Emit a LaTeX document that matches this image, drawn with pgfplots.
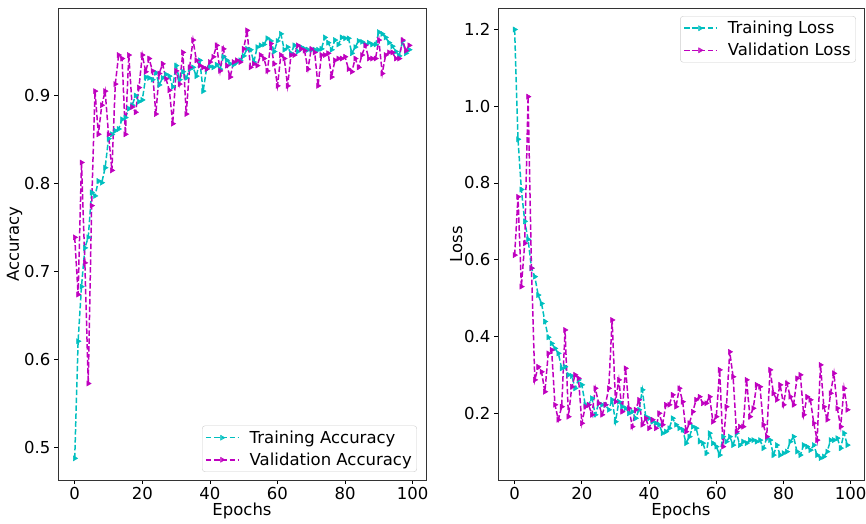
\documentclass[border=0pt]{standalone}
\usepackage{fontspec}
\setmainfont{DejaVu Sans}
\usepackage{pgfplots}
\usepackage{pgfplotstable}
\pgfplotsset{compat=1.18}
\definecolor{mc}{RGB}{191,0,191}
\definecolor{cc}{RGB}{0,191,191}
\pgfplotstableread{
epoch tacc vacc tloss vloss
0 0.488 0.739 1.200 0.612
1 0.621 0.674 0.914 0.764
2 0.683 0.824 0.783 0.530
3 0.727 0.710 0.700 0.643
4 0.739 0.573 0.653 1.025
5 0.790 0.775 0.578 0.578
6 0.786 0.905 0.556 0.287
7 0.803 0.856 0.508 0.321
8 0.801 0.889 0.486 0.308
9 0.818 0.905 0.439 0.256
10 0.851 0.856 0.398 0.356
11 0.856 0.815 0.382 0.365
12 0.860 0.913 0.369 0.222
13 0.862 0.946 0.356 0.183
14 0.873 0.942 0.317 0.217
15 0.875 0.856 0.321 0.417
16 0.885 0.946 0.300 0.191
17 0.889 0.887 0.297 0.269
18 0.900 0.881 0.265 0.300
19 0.893 0.909 0.287 0.291
20 0.895 0.946 0.274 0.174
21 0.921 0.927 0.222 0.217
22 0.920 0.942 0.222 0.222
23 0.918 0.928 0.239 0.196
24 0.926 0.879 0.196 0.265
25 0.912 0.925 0.226 0.226
26 0.920 0.936 0.222 0.196
27 0.924 0.919 0.222 0.222
28 0.922 0.906 0.209 0.265
29 0.910 0.868 0.235 0.443
30 0.934 0.928 0.178 0.230
31 0.918 0.913 0.230 0.287
32 0.927 0.949 0.217 0.204
33 0.920 0.879 0.213 0.317
34 0.930 0.932 0.200 0.213
35 0.932 0.963 0.204 0.165
36 0.922 0.940 0.187 0.209
37 0.940 0.934 0.209 0.235
38 0.905 0.932 0.261 0.170
39 0.930 0.930 0.191 0.187
40 0.933 0.938 0.187 0.161
41 0.932 0.944 0.178 0.183
42 0.935 0.957 0.174 0.161
43 0.930 0.928 0.170 0.200
44 0.944 0.953 0.148 0.170
45 0.940 0.934 0.152 0.222
46 0.936 0.921 0.161 0.222
47 0.935 0.938 0.187 0.248
48 0.938 0.940 0.170 0.217
49 0.940 0.938 0.161 0.265
50 0.945 0.953 0.157 0.230
51 0.953 0.974 0.122 0.152
52 0.952 0.932 0.139 0.174
53 0.938 0.936 0.165 0.204
54 0.955 0.934 0.161 0.235
55 0.957 0.946 0.126 0.243
56 0.958 0.942 0.122 0.226
57 0.965 0.928 0.096 0.226
58 0.962 0.959 0.148 0.243
59 0.950 0.936 0.122 0.178
60 0.962 0.911 0.113 0.191
61 0.970 0.946 0.091 0.313
62 0.952 0.942 0.139 0.113
63 0.955 0.911 0.126 0.217
64 0.948 0.946 0.139 0.360
65 0.957 0.946 0.117 0.295
66 0.950 0.957 0.148 0.152
67 0.955 0.953 0.117 0.165
68 0.953 0.951 0.126 0.165
69 0.952 0.930 0.122 0.287
70 0.952 0.953 0.130 0.191
71 0.952 0.949 0.130 0.213
72 0.952 0.911 0.126 0.274
73 0.953 0.946 0.130 0.269
74 0.966 0.946 0.109 0.170
75 0.960 0.948 0.135 0.139
76 0.952 0.921 0.130 0.313
77 0.963 0.940 0.091 0.252
78 0.958 0.942 0.117 0.235
79 0.966 0.942 0.091 0.274
80 0.965 0.944 0.096 0.222
81 0.965 0.930 0.100 0.278
82 0.948 0.927 0.126 0.243
83 0.955 0.942 0.139 0.222
84 0.962 0.932 0.100 0.291
85 0.961 0.946 0.091 0.300
86 0.958 0.957 0.117 0.196
87 0.960 0.942 0.113 0.243
88 0.958 0.942 0.104 0.235
89 0.958 0.942 0.117 0.174
90 0.972 0.963 0.091 0.130
91 0.970 0.925 0.083 0.326
92 0.966 0.946 0.087 0.217
93 0.960 0.949 0.100 0.183
94 0.956 0.949 0.130 0.252
95 0.950 0.942 0.130 0.304
96 0.945 0.942 0.135 0.213
97 0.962 0.963 0.109 0.165
98 0.948 0.951 0.148 0.265
99 0.952 0.957 0.117 0.209
}\datatable
\pgfplotsset{
  myax/.style={
    scale only axis,
    font=\fontsize{16.5}{19}\selectfont,
    /pgf/number format/assume math mode=true,
    tick align=outside,
    major tick length=4pt,
    tick style={black, line width=0.8pt},
    axis line style={black!80, line width=0.8pt},
    xmin=-4.95, xmax=103.95,
    xtick={0,20,40,60,80,100},
    xlabel={Epochs},
    xlabel style={yshift=4pt},
    xtick pos=bottom, ytick pos=left,
    legend cell align=left,
    legend style={draw=black!20, rounded corners=3pt, fill=white, fill opacity=0.8, text opacity=1,
      font=\fontsize{16.5}{19}\selectfont, row sep=4pt, inner sep=3pt},
    legend image code/.code={\draw[mark repeat=2,mark phase=2,##1] plot coordinates {(0pt,0pt)(16pt,0pt)(32pt,0pt)};},
  },
  ser/.style={dashed, dash pattern=on 5.5pt off 2.4pt, line width=1.5pt, color=#1,
    mark=triangle*, mark size=2.9pt, mark options={solid, rotate=-90, fill=#1, draw=#1, line width=0.5pt}},
}
\begin{document}
\begin{tikzpicture}
\useasboundingbox (0pt,0pt) rectangle (866pt,523pt);
\begin{axis}[myax, at={(58pt,43pt)}, anchor=south west, width=368pt, height=472pt,
  ymin=0.4634, ymax=0.9994,
  ytick={0.5,0.6,0.7,0.8,0.9},
  yticklabel style={/pgf/number format/.cd, fixed, fixed zerofill, precision=1},
  ylabel={Accuracy}, ylabel style={yshift=-5pt},
  legend style={at={(0.9755,0.017)}, anchor=south east}]
\addplot[ser=cc] table[x=epoch, y=tacc] {\datatable};
\addlegendentry{\hspace{9pt}Training Accuracy}
\addplot[ser=mc] table[x=epoch, y=vacc] {\datatable};
\addlegendentry{\hspace{9pt}Validation Accuracy}
\end{axis}
\begin{axis}[myax, at={(498pt,43pt)}, anchor=south west, width=366pt, height=472pt,
  ymin=0.026, ymax=1.256,
  ytick={0.2,0.4,0.6,0.8,1.0,1.2},
  yticklabel style={/pgf/number format/.cd, fixed, fixed zerofill, precision=1},
  ylabel={Loss}, ylabel style={yshift=-5pt},
  legend style={at={(0.978,0.983)}, anchor=north east}]
\addplot[ser=cc] table[x=epoch, y=tloss] {\datatable};
\addlegendentry{\hspace{9pt}Training Loss}
\addplot[ser=mc] table[x=epoch, y=vloss] {\datatable};
\addlegendentry{\hspace{9pt}Validation Loss}
\end{axis}
\end{tikzpicture}
\end{document}
